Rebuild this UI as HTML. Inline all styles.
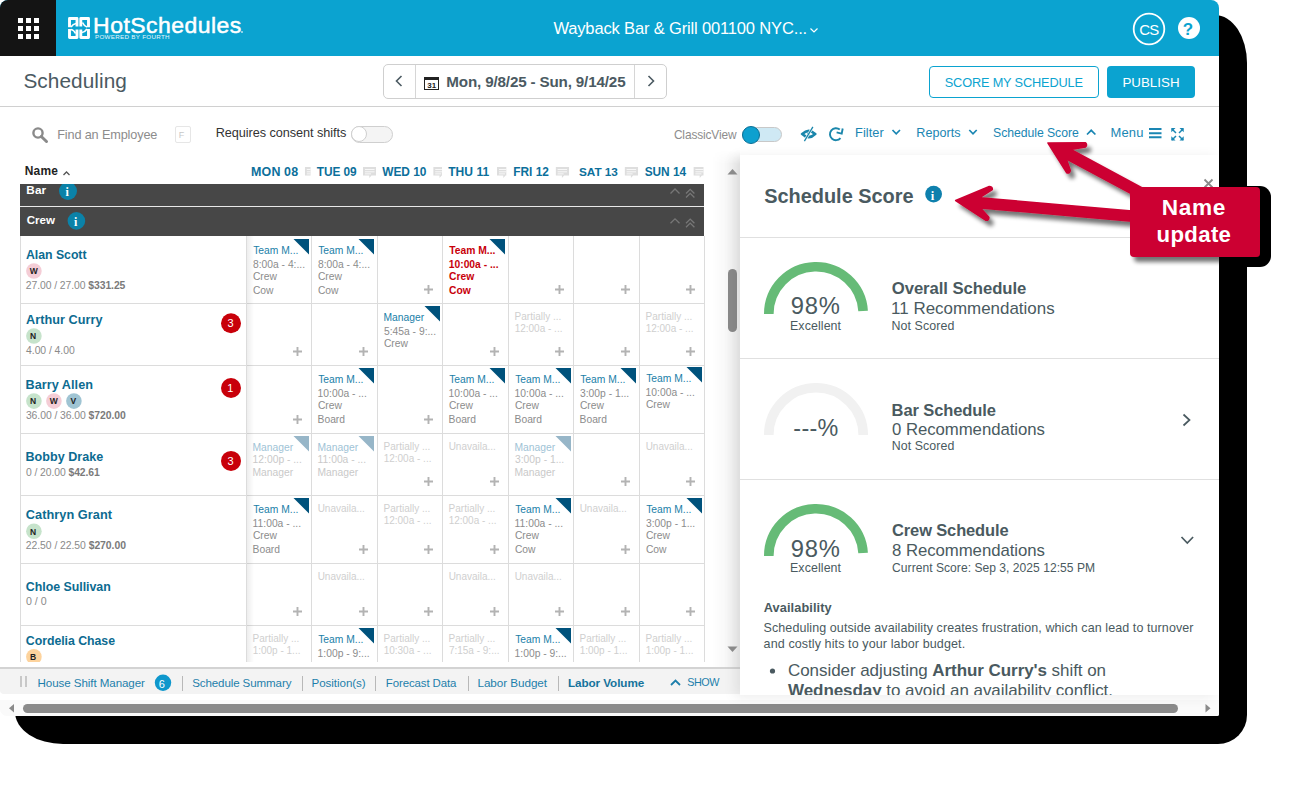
<!DOCTYPE html><html><head><meta charset="utf-8"><style>
html,body{margin:0;padding:0;}body{width:1293px;height:790px;position:relative;overflow:hidden;background:#fff;font-family:"Liberation Sans",sans-serif;}
svg text{white-space:pre}
</style></head><body>
<div style="position:absolute;left:15px;top:15px;width:1232px;height:729px;background:#000;border-radius:46px 32px 29px 48px / 46px 48px 29px 32px;"></div>
<div style="position:absolute;left:1150px;top:186px;width:121px;height:81px;background:#000;border-radius:11px;"></div>
<div style="position:absolute;left:0;top:0;width:1219px;height:716px;background:#fff;border-radius:8px 8px 2px 7px;overflow:hidden;">
<div style="position:absolute;left:0px;top:0px;width:1219px;height:56px;background:#0ba3d0;"></div>
<div style="position:absolute;left:0px;top:0px;width:56px;height:56px;background:#141414;"></div>
<div style="position:absolute;left:18px;top:18px;width:5.3px;height:5.3px;background:#fff;"></div>
<div style="position:absolute;left:18px;top:26px;width:5.3px;height:5.3px;background:#fff;"></div>
<div style="position:absolute;left:18px;top:34px;width:5.3px;height:5.3px;background:#fff;"></div>
<div style="position:absolute;left:26px;top:18px;width:5.3px;height:5.3px;background:#fff;"></div>
<div style="position:absolute;left:26px;top:26px;width:5.3px;height:5.3px;background:#fff;"></div>
<div style="position:absolute;left:26px;top:34px;width:5.3px;height:5.3px;background:#fff;"></div>
<div style="position:absolute;left:34px;top:18px;width:5.3px;height:5.3px;background:#fff;"></div>
<div style="position:absolute;left:34px;top:26px;width:5.3px;height:5.3px;background:#fff;"></div>
<div style="position:absolute;left:34px;top:34px;width:5.3px;height:5.3px;background:#fff;"></div>
<div style="position:absolute;left:0px;top:106px;width:1219px;height:1px;background:#d0d0d0;"></div>
<div style="position:absolute;left:383px;top:64px;width:282px;height:33px;border:1px solid #cfcfcf;border-radius:5px;background:#fff;"></div>
<div style="position:absolute;left:415px;top:65px;width:1px;height:33px;background:#d6d6d6;"></div>
<div style="position:absolute;left:634px;top:65px;width:1px;height:33px;background:#d6d6d6;"></div>
<div style="position:absolute;left:424px;top:77px;width:15px;height:13px;border:1.5px solid #222;border-top-width:3px;box-sizing:border-box;background:#fff;"></div>
<div style="position:absolute;left:929px;top:66px;width:168px;height:30px;border:1px solid #0ba3d0;border-radius:4px;"></div>
<div style="position:absolute;left:1107px;top:66px;width:88px;height:32px;background:#0ba3d0;border-radius:4px;"></div>
<div style="position:absolute;left:175px;top:126px;width:14px;height:15px;border:1px solid #e6e6e6;border-radius:2px;"></div>
<div style="position:absolute;left:351px;top:126px;width:40px;height:15px;border:1px solid #cfcfcf;border-radius:9px;background:#f4f4f4;"></div>
<div style="position:absolute;left:351px;top:126px;width:16px;height:16px;border:1px solid #cfcfcf;border-radius:50%;background:#fff;box-sizing:border-box;"></div>
<div style="position:absolute;left:742px;top:127px;width:40px;height:15px;border:1px solid #c8c8c8;border-radius:9px;background:#cfe9f4;box-sizing:border-box;"></div>
<div style="position:absolute;left:742px;top:126px;width:18px;height:18px;border:1px solid #0a6f96;border-radius:50%;background:#0ea0cf;box-sizing:border-box;"></div>
<div style="position:absolute;left:20px;top:184px;width:684px;height:21.5px;background:#474747;"></div>
<div style="position:absolute;left:20px;top:207px;width:684px;height:29px;background:#474747;"></div>
<div style="position:absolute;left:20px;top:205.5px;width:684px;height:1.5px;background:#e8e8e8;"></div>
<div style="position:absolute;left:0;top:236px;width:740px;height:426px;overflow:hidden;">
<div style="position:absolute;left:20px;top:67px;width:684px;height:1px;background:#dcdcdc;"></div>
<div style="position:absolute;left:20px;top:129px;width:684px;height:1px;background:#dcdcdc;"></div>
<div style="position:absolute;left:20px;top:197px;width:684px;height:1px;background:#dcdcdc;"></div>
<div style="position:absolute;left:20px;top:259px;width:684px;height:1px;background:#dcdcdc;"></div>
<div style="position:absolute;left:20px;top:327px;width:684px;height:1px;background:#dcdcdc;"></div>
<div style="position:absolute;left:20px;top:389px;width:684px;height:1px;background:#dcdcdc;"></div>
<div style="position:absolute;left:20px;top:0px;width:1px;height:426px;background:#dcdcdc;"></div>
<div style="position:absolute;left:246px;top:0px;width:1px;height:426px;background:#dcdcdc;"></div>
<div style="position:absolute;left:311px;top:0px;width:1px;height:426px;background:#dcdcdc;"></div>
<div style="position:absolute;left:377px;top:0px;width:1px;height:426px;background:#dcdcdc;"></div>
<div style="position:absolute;left:442px;top:0px;width:1px;height:426px;background:#dcdcdc;"></div>
<div style="position:absolute;left:508px;top:0px;width:1px;height:426px;background:#dcdcdc;"></div>
<div style="position:absolute;left:573px;top:0px;width:1px;height:426px;background:#dcdcdc;"></div>
<div style="position:absolute;left:639px;top:0px;width:1px;height:426px;background:#dcdcdc;"></div>
<div style="position:absolute;left:704px;top:0px;width:1px;height:426px;background:#dcdcdc;"></div>
<div style="position:absolute;left:247px;top:0px;width:7px;height:426px;background:linear-gradient(90deg,rgba(0,0,0,0.07),rgba(0,0,0,0));"></div>
</div>
<div style="position:absolute;left:712px;top:150px;width:28px;height:517px;background:linear-gradient(90deg,rgba(0,0,0,0),rgba(0,0,0,0.025) 45%,rgba(0,0,0,0.07));-webkit-mask-image:linear-gradient(180deg,rgba(0,0,0,0),#000 14px);"></div>
<div style="position:absolute;left:728px;top:269px;width:9px;height:63px;background:#8a8a8a;border-radius:5px;"></div>
<div style="position:absolute;left:0px;top:667px;width:740px;height:2px;background:#d3d3d3;"></div>
<div style="position:absolute;left:0px;top:669px;width:740px;height:25px;background:#f3f3f3;border-radius:0 0 0 4px;"></div>
<div style="position:absolute;left:20px;top:676px;width:2px;height:11px;background:#c8c8c8;"></div>
<div style="position:absolute;left:24.5px;top:676px;width:2px;height:11px;background:#c8c8c8;"></div>
<div style="position:absolute;left:181.6px;top:676px;width:1px;height:15px;background:#b8b8b8;"></div>
<div style="position:absolute;left:301.6px;top:676px;width:1px;height:15px;background:#b8b8b8;"></div>
<div style="position:absolute;left:375.3px;top:676px;width:1px;height:15px;background:#b8b8b8;"></div>
<div style="position:absolute;left:468.2px;top:676px;width:1px;height:15px;background:#b8b8b8;"></div>
<div style="position:absolute;left:557.9px;top:676px;width:1px;height:15px;background:#b8b8b8;"></div>
<div style="position:absolute;left:0px;top:700px;width:1219px;height:16px;background:#fafafa;"></div>
<div style="position:absolute;left:23px;top:704px;width:1155px;height:9px;background:#8a8a8a;border-radius:5px;"></div>
<div style="position:absolute;left:740px;top:155px;width:479px;height:540px;background:#fff;box-shadow:-5px 2px 12px rgba(0,0,0,0.08);"></div>
<div style="position:absolute;left:740px;top:237px;width:479px;height:1px;background:#e0e0e0;"></div>
<div style="position:absolute;left:740px;top:358px;width:479px;height:1px;background:#e0e0e0;"></div>
<div style="position:absolute;left:740px;top:479px;width:479px;height:1px;background:#e0e0e0;"></div>
<svg width="1293" height="790" style="position:absolute;left:0;top:0;" font-family='"Liberation Sans", sans-serif'>
<svg x="740" y="155" width="479" height="540" overflow="hidden"><g transform="translate(-740,-155)">
<text x="764.24" y="203.00" font-size="19.93" fill="#4a5a60" font-weight="bold" textLength="149.36" lengthAdjust="spacing">Schedule Score</text>
<circle cx="933.6" cy="194.1" r="8.4" fill="#0e80ad"/>
<text x="930.75" y="199.50" font-size="12.5" fill="#fff" font-weight="bold" font-family="Liberation Serif">i</text>
<path d="M1204.5 179.5 L1212.5 187.5 M1212.5 179.5 L1204.5 187.5" stroke="#8a8a8a" stroke-width="1.8"/>
<path d="M768.8 314 A47.2 47.2 0 0 1 863.11 311.04" fill="none" stroke="#66bb77" stroke-width="9.6"/>
<text x="790.81" y="314.30" font-size="23.77" fill="#4a5a60" textLength="49.04" lengthAdjust="spacing">98%</text>
<text x="789.98" y="329.80" font-size="12.42" fill="#4a5a60" textLength="51.09" lengthAdjust="spacing">Excellent</text>
<text x="891.73" y="293.80" font-size="16.71" fill="#4a5a60" font-weight="bold" textLength="134.65" lengthAdjust="spacing">Overall Schedule</text>
<text x="891.11" y="314.30" font-size="16.95" fill="#4a5a60" textLength="163.49" lengthAdjust="spacing">11 Recommendations</text>
<text x="891.38" y="329.80" font-size="12.41" fill="#4a5a60" textLength="62.92" lengthAdjust="spacing">Not Scored</text>
<path d="M768.8 435 A47.2 47.2 0 0 1 863.2 435" fill="none" stroke="#f1f1f1" stroke-width="9.6"/>
<text x="793.27" y="436.00" font-size="23.35" fill="#4a5a60" textLength="45.12" lengthAdjust="spacing">---%</text>
<text x="891.61" y="415.80" font-size="16.51" fill="#4a5a60" font-weight="bold" textLength="104.24" lengthAdjust="spacing">Bar Schedule</text>
<text x="892.06" y="435.40" font-size="16.76" fill="#4a5a60" textLength="152.83" lengthAdjust="spacing">0 Recommendations</text>
<text x="891.69" y="450.30" font-size="12.36" fill="#4a5a60" textLength="62.61" lengthAdjust="spacing">Not Scored</text>
<path d="M1183.5 414.5 L1189.5 420 L1183.5 425.5" fill="none" stroke="#4a5a60" stroke-width="1.7"/>
<path d="M768.8 556 A47.2 47.2 0 0 1 863.11 553.04" fill="none" stroke="#66bb77" stroke-width="9.6"/>
<text x="790.81" y="556.70" font-size="23.77" fill="#4a5a60" textLength="49.04" lengthAdjust="spacing">98%</text>
<text x="789.98" y="572.00" font-size="12.42" fill="#4a5a60" textLength="51.09" lengthAdjust="spacing">Excellent</text>
<text x="892.04" y="536.40" font-size="16.48" fill="#4a5a60" font-weight="bold" textLength="116.54" lengthAdjust="spacing">Crew Schedule</text>
<text x="892.00" y="556.00" font-size="16.77" fill="#4a5a60" textLength="152.90" lengthAdjust="spacing">8 Recommendations</text>
<text x="892.10" y="572.00" font-size="12.09" fill="#4a5a60" textLength="202.97" lengthAdjust="spacing">Current Score: Sep 3, 2025 12:55 PM</text>
<path d="M1181.5 537 L1187.3 543 L1193.1 537" fill="none" stroke="#4a5a60" stroke-width="1.7"/>
<text x="763.79" y="612.20" font-size="12.74" fill="#4a5a60" font-weight="bold" textLength="67.77" lengthAdjust="spacing">Availability</text>
<text x="763.55" y="632.10" font-size="12.49" fill="#4a5a60" textLength="429.93" lengthAdjust="spacing">Scheduling outside availability creates frustration, which can lead to turnover</text>
<text x="763.57" y="648.20" font-size="12.54" fill="#4a5a60" textLength="201.55" lengthAdjust="spacing">and costly hits to your labor budget.</text>
<circle cx="772.5" cy="671" r="2.6" fill="#4a5a60"/>
<text x="788" y="676.1" font-size="17" fill="#4a5a60" textLength="318" lengthAdjust="spacing">Consider adjusting <tspan font-weight="bold">Arthur Curry's</tspan> shift on</text>
<text x="788" y="695.5" font-size="17" fill="#4a5a60" textLength="325" lengthAdjust="spacing"><tspan font-weight="bold">Wednesday</tspan> to avoid an availability conflict.</text>
</g></svg></svg>
<svg width="1293" height="790" style="position:absolute;left:0;top:0;" font-family='"Liberation Sans", sans-serif'><svg x="0" y="236" width="740" height="426" overflow="hidden"><g transform="translate(0,-236)">
<text x="26.00" y="259.10" font-size="12.32" fill="#0c6b91" font-weight="bold" textLength="60.53" lengthAdjust="spacing">Alan Scott</text>
<circle cx="33.9" cy="271.0" r="7.8" fill="#f4cdd6"/>
<text x="29.70" y="274.30" font-size="8.5" fill="#222" font-weight="bold">W</text>
<text x="25.78" y="289.2" font-size="10.38" fill="#8a8a8a" textLength="99.60" lengthAdjust="spacing">27.00 / 27.00 <tspan font-weight="bold" fill="#7a7a7a">$331.25</tspan></text>
<text x="26.00" y="324.30" font-size="12.68" fill="#0c6b91" font-weight="bold" textLength="76.56" lengthAdjust="spacing">Arthur Curry</text>
<circle cx="33.9" cy="336.0" r="7.8" fill="#c6e3cb"/>
<text x="30.04" y="339.30" font-size="8.5" fill="#222" font-weight="bold">N</text>
<text x="26.07" y="354.1" font-size="10.41" fill="#8a8a8a" textLength="48.63" lengthAdjust="spacing">4.00 / 4.00<tspan font-weight="bold" fill="#7a7a7a"></tspan></text>
<circle cx="231" cy="323.3" r="10" fill="#c8000a"/>
<text x="227.58" y="327.30" font-size="11" fill="#fff">3</text>
<text x="25.46" y="388.60" font-size="12.67" fill="#0c6b91" font-weight="bold" textLength="67.50" lengthAdjust="spacing">Barry Allen</text>
<circle cx="33.9" cy="401.1" r="7.8" fill="#c6e3cb"/>
<text x="30.04" y="404.40" font-size="8.5" fill="#222" font-weight="bold">N</text>
<circle cx="53.9" cy="401.1" r="7.8" fill="#f4cdd6"/>
<text x="49.70" y="404.40" font-size="8.5" fill="#222" font-weight="bold">W</text>
<circle cx="73.9" cy="401.1" r="7.8" fill="#9fc4d3"/>
<text x="70.55" y="404.40" font-size="8.5" fill="#222" font-weight="bold">V</text>
<text x="25.90" y="419.1" font-size="10.4" fill="#8a8a8a" textLength="99.92" lengthAdjust="spacing">36.00 / 36.00 <tspan font-weight="bold" fill="#7a7a7a">$720.00</tspan></text>
<circle cx="231" cy="388" r="10" fill="#c8000a"/>
<text x="227.16" y="392.00" font-size="11" fill="#fff">1</text>
<text x="25.47" y="461.30" font-size="12.57" fill="#0c6b91" font-weight="bold" textLength="77.76" lengthAdjust="spacing">Bobby Drake</text>
<text x="25.91" y="475.8" font-size="10.37" fill="#8a8a8a" textLength="73.87" lengthAdjust="spacing">0 / 20.00 <tspan font-weight="bold" fill="#7a7a7a">$42.61</tspan></text>
<circle cx="231" cy="460.9" r="10" fill="#c8000a"/>
<text x="227.58" y="464.90" font-size="11" fill="#fff">3</text>
<text x="25.79" y="518.70" font-size="12.73" fill="#0c6b91" font-weight="bold" textLength="86.25" lengthAdjust="spacing">Cathryn Grant</text>
<circle cx="33.9" cy="531.3" r="7.8" fill="#c6e3cb"/>
<text x="30.04" y="534.60" font-size="8.5" fill="#222" font-weight="bold">N</text>
<text x="25.78" y="549.3" font-size="10.41" fill="#8a8a8a" textLength="100.15" lengthAdjust="spacing">22.50 / 22.50 <tspan font-weight="bold" fill="#7a7a7a">$270.00</tspan></text>
<text x="25.80" y="590.50" font-size="12.38" fill="#0c6b91" font-weight="bold" textLength="84.94" lengthAdjust="spacing">Chloe Sullivan</text>
<text x="25.90" y="604.6" font-size="10.63" fill="#8a8a8a" textLength="20.71" lengthAdjust="spacing">0 / 0<tspan font-weight="bold" fill="#7a7a7a"></tspan></text>
<text x="25.81" y="644.50" font-size="12.33" fill="#0c6b91" font-weight="bold" textLength="89.22" lengthAdjust="spacing">Cordelia Chase</text>
<circle cx="33.9" cy="656.8" r="7.8" fill="#fdd39d"/>
<text x="30.04" y="660.10" font-size="8.5" fill="#222" font-weight="bold">B</text>
<path d="M293.5 239 H309 V254.5Z" fill="#00527c"/>
<text x="253.17" y="253.90" font-size="10.3" fill="#1a80a8">Team M...</text>
<text x="252.97" y="267.90" font-size="10.3" fill="#8c8c8c">8:00a - 4:...</text>
<text x="252.89" y="280.00" font-size="10.3" fill="#8c8c8c">Crew</text>
<text x="252.89" y="293.60" font-size="10.3" fill="#8c8c8c">Cow</text>
<path d="M358.5 239 H374 V254.5Z" fill="#00527c"/>
<text x="318.17" y="253.90" font-size="10.3" fill="#1a80a8">Team M...</text>
<text x="317.97" y="267.90" font-size="10.3" fill="#8c8c8c">8:00a - 4:...</text>
<text x="317.88" y="280.00" font-size="10.3" fill="#8c8c8c">Crew</text>
<text x="317.88" y="293.60" font-size="10.3" fill="#8c8c8c">Cow</text>
<path d="M424.0 289.5 H433.0 M428.5 285.0 V294.0" stroke="#b3b3b3" stroke-width="1.9"/>
<path d="M489.5 239 H505 V254.5Z" fill="#00527c"/>
<text x="449.30" y="253.90" font-size="10.3" fill="#c8000a" font-weight="bold">Team M...</text>
<text x="448.76" y="267.90" font-size="10.3" fill="#c8000a" font-weight="bold">10:00a - ...</text>
<text x="448.99" y="280.00" font-size="10.3" fill="#c8000a" font-weight="bold">Crew</text>
<text x="448.99" y="293.60" font-size="10.3" fill="#c8000a" font-weight="bold">Cow</text>
<path d="M555.0 289.5 H564.0 M559.5 285.0 V294.0" stroke="#b3b3b3" stroke-width="1.9"/>
<path d="M621.0 289.5 H630.0 M625.5 285.0 V294.0" stroke="#b3b3b3" stroke-width="1.9"/>
<path d="M686.0 289.5 H695.0 M690.5 285.0 V294.0" stroke="#b3b3b3" stroke-width="1.9"/>
<path d="M293.0 351.5 H302.0 M297.5 347.0 V356.0" stroke="#b3b3b3" stroke-width="1.9"/>
<path d="M359.0 351.5 H368.0 M363.5 347.0 V356.0" stroke="#b3b3b3" stroke-width="1.9"/>
<path d="M424.5 306 H440 V321.5Z" fill="#00527c"/>
<text x="383.56" y="320.90" font-size="10.3" fill="#1a80a8">Manager</text>
<text x="383.99" y="334.90" font-size="10.3" fill="#8c8c8c">5:45a - 9:...</text>
<text x="383.88" y="347.00" font-size="10.3" fill="#8c8c8c">Crew</text>
<path d="M490.0 351.5 H499.0 M494.5 347.0 V356.0" stroke="#b3b3b3" stroke-width="1.9"/>
<text x="514.58" y="319.50" font-size="10" fill="#cfcfcf">Partially ...</text>
<text x="514.64" y="332.30" font-size="10" fill="#cfcfcf">12:00a - ...</text>
<path d="M555.0 351.5 H564.0 M559.5 347.0 V356.0" stroke="#b3b3b3" stroke-width="1.9"/>
<path d="M621.0 351.5 H630.0 M625.5 347.0 V356.0" stroke="#b3b3b3" stroke-width="1.9"/>
<text x="645.58" y="319.50" font-size="10" fill="#cfcfcf">Partially ...</text>
<text x="645.64" y="332.30" font-size="10" fill="#cfcfcf">12:00a - ...</text>
<path d="M686.0 351.5 H695.0 M690.5 347.0 V356.0" stroke="#b3b3b3" stroke-width="1.9"/>
<path d="M293.0 419.5 H302.0 M297.5 415.0 V424.0" stroke="#b3b3b3" stroke-width="1.9"/>
<path d="M358.5 368 H374 V383.5Z" fill="#00527c"/>
<text x="318.17" y="382.90" font-size="10.3" fill="#1a80a8">Team M...</text>
<text x="317.62" y="396.90" font-size="10.3" fill="#8c8c8c">10:00a - ...</text>
<text x="317.88" y="409.00" font-size="10.3" fill="#8c8c8c">Crew</text>
<text x="317.56" y="422.60" font-size="10.3" fill="#8c8c8c">Board</text>
<path d="M424.0 419.5 H433.0 M428.5 415.0 V424.0" stroke="#b3b3b3" stroke-width="1.9"/>
<path d="M489.5 368 H505 V383.5Z" fill="#00527c"/>
<text x="449.17" y="382.90" font-size="10.3" fill="#1a80a8">Team M...</text>
<text x="448.62" y="396.90" font-size="10.3" fill="#8c8c8c">10:00a - ...</text>
<text x="448.88" y="409.00" font-size="10.3" fill="#8c8c8c">Crew</text>
<text x="448.56" y="422.60" font-size="10.3" fill="#8c8c8c">Board</text>
<path d="M555.5 368 H571 V383.5Z" fill="#00527c"/>
<text x="515.17" y="382.90" font-size="10.3" fill="#1a80a8">Team M...</text>
<text x="514.62" y="396.90" font-size="10.3" fill="#8c8c8c">10:00a - ...</text>
<text x="514.88" y="409.00" font-size="10.3" fill="#8c8c8c">Crew</text>
<text x="514.56" y="422.60" font-size="10.3" fill="#8c8c8c">Board</text>
<path d="M620.5 368 H636 V383.5Z" fill="#00527c"/>
<text x="580.17" y="382.90" font-size="10.3" fill="#1a80a8">Team M...</text>
<text x="580.01" y="396.90" font-size="10.3" fill="#8c8c8c">3:00p - 1...</text>
<text x="579.88" y="409.00" font-size="10.3" fill="#8c8c8c">Crew</text>
<text x="579.56" y="422.60" font-size="10.3" fill="#8c8c8c">Board</text>
<path d="M686.5 367 H702 V382.5Z" fill="#00527c"/>
<text x="646.17" y="381.90" font-size="10.3" fill="#1a80a8">Team M...</text>
<text x="645.62" y="395.90" font-size="10.3" fill="#8c8c8c">10:00a - ...</text>
<text x="645.88" y="408.00" font-size="10.3" fill="#8c8c8c">Crew</text>
<path d="M293.5 436 H309 V451.5Z" fill="#97b6c8"/>
<text x="252.56" y="450.50" font-size="10.3" fill="#9fc3d6">Manager</text>
<text x="252.62" y="462.50" font-size="10.3" fill="#c9c9c9">12:00p - ...</text>
<text x="252.56" y="475.50" font-size="10.3" fill="#c9c9c9">Manager</text>
<path d="M358.5 436 H374 V451.5Z" fill="#97b6c8"/>
<text x="317.56" y="450.50" font-size="10.3" fill="#9fc3d6">Manager</text>
<text x="317.62" y="462.50" font-size="10.3" fill="#c9c9c9">11:00a - ...</text>
<text x="317.56" y="475.50" font-size="10.3" fill="#c9c9c9">Manager</text>
<text x="383.58" y="449.50" font-size="10" fill="#cfcfcf">Partially ...</text>
<text x="383.64" y="462.30" font-size="10" fill="#cfcfcf">12:00a - ...</text>
<path d="M424.0 481.5 H433.0 M428.5 477.0 V486.0" stroke="#b3b3b3" stroke-width="1.9"/>
<text x="448.64" y="449.50" font-size="10" fill="#cfcfcf">Unavaila...</text>
<path d="M490.0 481.5 H499.0 M494.5 477.0 V486.0" stroke="#b3b3b3" stroke-width="1.9"/>
<path d="M555.5 436 H571 V451.5Z" fill="#97b6c8"/>
<text x="514.56" y="450.50" font-size="10.3" fill="#9fc3d6">Manager</text>
<text x="515.01" y="462.50" font-size="10.3" fill="#c9c9c9">3:00p - 1...</text>
<text x="514.56" y="475.50" font-size="10.3" fill="#c9c9c9">Manager</text>
<path d="M621.0 481.5 H630.0 M625.5 477.0 V486.0" stroke="#b3b3b3" stroke-width="1.9"/>
<text x="645.64" y="449.50" font-size="10" fill="#cfcfcf">Unavaila...</text>
<path d="M686.0 481.5 H695.0 M690.5 477.0 V486.0" stroke="#b3b3b3" stroke-width="1.9"/>
<path d="M293.5 498 H309 V513.5Z" fill="#00527c"/>
<text x="253.17" y="512.90" font-size="10.3" fill="#1a80a8">Team M...</text>
<text x="252.62" y="526.90" font-size="10.3" fill="#8c8c8c">11:00a - ...</text>
<text x="252.89" y="539.00" font-size="10.3" fill="#8c8c8c">Crew</text>
<text x="252.56" y="552.60" font-size="10.3" fill="#8c8c8c">Board</text>
<text x="317.64" y="511.50" font-size="10" fill="#cfcfcf">Unavaila...</text>
<path d="M359.0 549.5 H368.0 M363.5 545.0 V554.0" stroke="#b3b3b3" stroke-width="1.9"/>
<text x="383.58" y="511.50" font-size="10" fill="#cfcfcf">Partially ...</text>
<text x="383.64" y="524.30" font-size="10" fill="#cfcfcf">12:00a - ...</text>
<path d="M424.0 549.5 H433.0 M428.5 545.0 V554.0" stroke="#b3b3b3" stroke-width="1.9"/>
<text x="448.58" y="511.50" font-size="10" fill="#cfcfcf">Partially ...</text>
<text x="448.64" y="524.30" font-size="10" fill="#cfcfcf">12:00a - ...</text>
<path d="M490.0 549.5 H499.0 M494.5 545.0 V554.0" stroke="#b3b3b3" stroke-width="1.9"/>
<path d="M555.5 498 H571 V513.5Z" fill="#00527c"/>
<text x="515.17" y="512.90" font-size="10.3" fill="#1a80a8">Team M...</text>
<text x="514.62" y="526.90" font-size="10.3" fill="#8c8c8c">11:00a - ...</text>
<text x="514.88" y="539.00" font-size="10.3" fill="#8c8c8c">Crew</text>
<text x="514.88" y="552.60" font-size="10.3" fill="#8c8c8c">Cow</text>
<text x="579.64" y="511.50" font-size="10" fill="#cfcfcf">Unavaila...</text>
<path d="M621.0 549.5 H630.0 M625.5 545.0 V554.0" stroke="#b3b3b3" stroke-width="1.9"/>
<path d="M686.5 498 H702 V513.5Z" fill="#00527c"/>
<text x="646.17" y="512.90" font-size="10.3" fill="#1a80a8">Team M...</text>
<text x="646.01" y="526.90" font-size="10.3" fill="#8c8c8c">3:00p - 1...</text>
<text x="645.88" y="539.00" font-size="10.3" fill="#8c8c8c">Crew</text>
<text x="645.88" y="552.60" font-size="10.3" fill="#8c8c8c">Cow</text>
<path d="M293.0 611.5 H302.0 M297.5 607.0 V616.0" stroke="#b3b3b3" stroke-width="1.9"/>
<text x="317.64" y="579.50" font-size="10" fill="#cfcfcf">Unavaila...</text>
<path d="M359.0 611.5 H368.0 M363.5 607.0 V616.0" stroke="#b3b3b3" stroke-width="1.9"/>
<path d="M424.0 611.5 H433.0 M428.5 607.0 V616.0" stroke="#b3b3b3" stroke-width="1.9"/>
<text x="448.64" y="579.50" font-size="10" fill="#cfcfcf">Unavaila...</text>
<path d="M490.0 611.5 H499.0 M494.5 607.0 V616.0" stroke="#b3b3b3" stroke-width="1.9"/>
<text x="514.64" y="579.50" font-size="10" fill="#cfcfcf">Unavaila...</text>
<path d="M555.0 611.5 H564.0 M559.5 607.0 V616.0" stroke="#b3b3b3" stroke-width="1.9"/>
<path d="M621.0 611.5 H630.0 M625.5 607.0 V616.0" stroke="#b3b3b3" stroke-width="1.9"/>
<path d="M686.0 611.5 H695.0 M690.5 607.0 V616.0" stroke="#b3b3b3" stroke-width="1.9"/>
<text x="252.58" y="641.50" font-size="10" fill="#cfcfcf">Partially ...</text>
<text x="252.64" y="654.30" font-size="10" fill="#cfcfcf">1:00p - 1...</text>
<path d="M358.5 628 H374 V643.5Z" fill="#00527c"/>
<text x="318.17" y="642.90" font-size="10.3" fill="#1a80a8">Team M...</text>
<text x="317.62" y="656.90" font-size="10.3" fill="#8c8c8c">1:00p - 9:...</text>
<text x="383.58" y="641.50" font-size="10" fill="#cfcfcf">Partially ...</text>
<text x="383.64" y="654.30" font-size="10" fill="#cfcfcf">10:30a - ...</text>
<text x="448.58" y="641.50" font-size="10" fill="#cfcfcf">Partially ...</text>
<text x="448.90" y="654.30" font-size="10" fill="#cfcfcf">7:15a - 9:...</text>
<path d="M555.5 628 H571 V643.5Z" fill="#00527c"/>
<text x="515.17" y="642.90" font-size="10.3" fill="#1a80a8">Team M...</text>
<text x="514.62" y="656.90" font-size="10.3" fill="#8c8c8c">1:00p - 9:...</text>
<text x="579.58" y="641.50" font-size="10" fill="#cfcfcf">Partially ...</text>
<text x="579.64" y="654.30" font-size="10" fill="#cfcfcf">1:00p - 1...</text>
<text x="645.58" y="641.50" font-size="10" fill="#cfcfcf">Partially ...</text>
<text x="645.64" y="654.30" font-size="10" fill="#cfcfcf">1:00p - 1...</text>
</g></svg></svg>
</div>
<svg width="1293" height="790" style="position:absolute;left:0;top:0;" font-family='"Liberation Sans", sans-serif'>
<g fill="none" stroke="#fff" stroke-width="2.9" stroke-linejoin="round"><path d="M69.5 27.3 V18.5 H77 V26.5"/><path d="M71 27 Q73 24 76 23.5" stroke-width="1.6"/><path d="M80.8 26.5 V18.5 H88.5 V27.3"/><path d="M87 27 Q84 26 82.5 22.5" stroke-width="1.6"/><path d="M69.5 29 V37.5 H77 V29.5"/><path d="M71 29.5 Q74 30 75.5 33.5" stroke-width="1.6"/><path d="M80.8 29.5 V37.5 H88.5 V29"/><path d="M87 29 Q85 32 82 32.5" stroke-width="1.6"/></g>
<text x="93.12" y="33.00" font-size="22.97" fill="#fff" textLength="148.21" lengthAdjust="spacing" stroke="#fff" stroke-width="0.5">HotSchedules</text>
<circle cx="242" cy="32" r="1" fill="#fff" opacity="0.7"/>
<text x="94.99" y="39.00" font-size="6.23" fill="#e6f6fb" textLength="74.51" lengthAdjust="spacing">POWERED BY FOURTH</text>
<text x="553.43" y="33.90" font-size="16.52" fill="#fff" textLength="253.76" lengthAdjust="spacing">Wayback Bar &amp; Grill 001100 NYC...</text>
<path d="M810.5 28.5 L814 32 L817.5 28.5" fill="none" stroke="#fff" stroke-width="1.2"/>
<circle cx="1149" cy="29" r="15.3" fill="none" stroke="#fff" stroke-width="1.8"/>
<text x="1139.25" y="35.00" font-size="14.96" fill="#fff" textLength="19.92" lengthAdjust="spacing">CS</text>
<circle cx="1189" cy="28" r="11" fill="#fff"/>
<text x="1182.75" y="35.00" font-size="17" fill="#0ba3d0" font-weight="bold" textLength="12.21" lengthAdjust="spacing">?</text>
<text x="23.39" y="88.30" font-size="20.79" fill="#4b5a62" textLength="103.45" lengthAdjust="spacing">Scheduling</text>
<path d="M401.5 76 L396.5 81 L401.5 86" fill="none" stroke="#4b5a62" stroke-width="1.6"/>
<path d="M648.5 76 L653.5 81 L648.5 86" fill="none" stroke="#4b5a62" stroke-width="1.6"/>
<text x="427.32" y="88.30" font-size="7.99" fill="#222" font-weight="bold" textLength="8.89" lengthAdjust="spacing">31</text>
<text x="446.30" y="87.40" font-size="15.21" fill="#4b5a62" font-weight="bold" textLength="179.30" lengthAdjust="spacing">Mon, 9/8/25 - Sun, 9/14/25</text>
<text x="944.74" y="87.20" font-size="12.75" fill="#0ba3d0" textLength="138.19" lengthAdjust="spacing">SCORE MY SCHEDULE</text>
<text x="1122.41" y="87.20" font-size="13.34" fill="#fff" textLength="57.15" lengthAdjust="spacing">PUBLISH</text>
<circle cx="38" cy="133" r="4.6" fill="none" stroke="#8a8a8a" stroke-width="2.4"/><path d="M41.3 136.5 L46.5 141.5" stroke="#8a8a8a" stroke-width="3" stroke-linecap="round"/>
<text x="57.16" y="138.80" font-size="12.69" fill="#8c8c8c" textLength="100.20" lengthAdjust="spacing">Find an Employee</text>
<text x="178.76" y="137.50" font-size="9" fill="#c8c8c8">F</text>
<text x="215.66" y="137.20" font-size="12.7" fill="#333" textLength="130.70" lengthAdjust="spacing">Requires consent shifts</text>
<text x="673.90" y="139.10" font-size="11.91" fill="#8d8d8d" textLength="62.65" lengthAdjust="spacing">ClassicView</text>
<path d="M802.3 134 Q808.7 127.6 815.1 134 Q808.7 140.4 802.3 134Z" fill="none" stroke="#1a86ab" stroke-width="2.5"/><circle cx="808.4" cy="134" r="1.6" fill="#1a86ab"/><path d="M812.9 126.9 L804.4 141.2" stroke="#fff" stroke-width="2.6"/><path d="M812.9 126.9 L804.4 141.2" stroke="#1a86ab" stroke-width="1.3"/>
<path d="M840.5 138.1 A6 6 0 1 1 839.8 129.6" fill="none" stroke="#1a86ab" stroke-width="1.9"/><path d="M836.6 132.4 L841.7 133.6 L842.7 128.5" fill="none" stroke="#1a86ab" stroke-width="1.9"/>
<text x="855.05" y="137.30" font-size="12.8" fill="#1a86b3" textLength="28.73" lengthAdjust="spacing">Filter</text>
<path d="M892.5 130 L896.2 133.8 L900 130" fill="none" stroke="#1a86b3" stroke-width="1.7"/>
<text x="916.27" y="137.30" font-size="12.6" fill="#1a86b3" textLength="44.28" lengthAdjust="spacing">Reports</text>
<path d="M969.3 130 L973 133.8 L976.7 130" fill="none" stroke="#1a86b3" stroke-width="1.7"/>
<text x="993.06" y="137.30" font-size="12.24" fill="#1a86b3" textLength="85.68" lengthAdjust="spacing">Schedule Score</text>
<path d="M1087 134.5 L1091.2 130.3 L1095.4 134.5" fill="none" stroke="#1a86b3" stroke-width="1.7"/>
<text x="1110.54" y="137.30" font-size="12.97" fill="#1a86b3" textLength="32.91" lengthAdjust="spacing">Menu</text>
<g stroke="#1a86b3" stroke-width="2"><path d="M1149 129 H1161.5 M1149 133.3 H1161.5 M1149 137.3 H1161.5"/></g>
<g stroke="#1a86b3" stroke-width="1.5" fill="none"><path d="M1172 129 L1176 133 M1183 129 L1179 133 M1172 140 L1176 136 M1183 140 L1179 136"/></g><g fill="#1a86b3"><path d="M1171.3 128 h4.2 l-4.2 4.2z M1183.7 128 h-4.2 l4.2 4.2z M1171.3 140.5 h4.2 l-4.2 -4.2z M1183.7 140.5 h-4.2 l4.2 -4.2z"/></g>
<text x="24.81" y="175.00" font-size="11.96" fill="#222" font-weight="bold" textLength="33.09" lengthAdjust="spacing">Name</text>
<path d="M63.5 175 L66.5 172 L69.5 175" fill="none" stroke="#555" stroke-width="1.3"/>
<text x="251.08" y="175.60" font-size="12.44" fill="#0c6f9b" font-weight="bold" textLength="46.98" lengthAdjust="spacing">MON 08</text>
<svg x="304.8" y="166.5" width="5.800000000000011" height="13" overflow="hidden"><path d="M0 0.5 H13.5 V9 H8.5 L6.3 11.5 V9 H0Z" fill="#dedede"/><path d="M2 3 H11.5 M2 5.3 H11.5 M2 7.4 H8" stroke="#fafafa" stroke-width="0.9"/></svg>
<text x="316.68" y="175.60" font-size="11.85" fill="#0c6f9b" font-weight="bold" textLength="39.95" lengthAdjust="spacing">TUE 09</text>
<svg x="363" y="166.5" width="13" height="13" overflow="hidden"><path d="M0 0.5 H13.5 V9 H8.5 L6.3 11.5 V9 H0Z" fill="#dedede"/><path d="M2 3 H11.5 M2 5.3 H11.5 M2 7.4 H8" stroke="#fafafa" stroke-width="0.9"/></svg>
<text x="382.20" y="175.60" font-size="11.92" fill="#0c6f9b" font-weight="bold" textLength="44.27" lengthAdjust="spacing">WED 10</text>
<svg x="433.2" y="166.5" width="8.800000000000011" height="13" overflow="hidden"><path d="M0 0.5 H13.5 V9 H8.5 L6.3 11.5 V9 H0Z" fill="#dedede"/><path d="M2 3 H11.5 M2 5.3 H11.5 M2 7.4 H8" stroke="#fafafa" stroke-width="0.9"/></svg>
<text x="448.18" y="175.60" font-size="12.07" fill="#0c6f9b" font-weight="bold" textLength="41.04" lengthAdjust="spacing">THU 11</text>
<svg x="497" y="166.5" width="9.300000000000011" height="13" overflow="hidden"><path d="M0 0.5 H13.5 V9 H8.5 L6.3 11.5 V9 H0Z" fill="#dedede"/><path d="M2 3 H11.5 M2 5.3 H11.5 M2 7.4 H8" stroke="#fafafa" stroke-width="0.9"/></svg>
<text x="513.32" y="175.60" font-size="11.89" fill="#0c6f9b" font-weight="bold" textLength="35.55" lengthAdjust="spacing">FRI 12</text>
<svg x="555.6" y="166.5" width="13.899999999999977" height="13" overflow="hidden"><path d="M0 0.5 H13.5 V9 H8.5 L6.3 11.5 V9 H0Z" fill="#dedede"/><path d="M2 3 H11.5 M2 5.3 H11.5 M2 7.4 H8" stroke="#fafafa" stroke-width="0.9"/></svg>
<text x="579.07" y="175.60" font-size="11.77" fill="#0c6f9b" font-weight="bold" textLength="38.73" lengthAdjust="spacing">SAT 13</text>
<svg x="624.6" y="166.5" width="13.699999999999932" height="13" overflow="hidden"><path d="M0 0.5 H13.5 V9 H8.5 L6.3 11.5 V9 H0Z" fill="#dedede"/><path d="M2 3 H11.5 M2 5.3 H11.5 M2 7.4 H8" stroke="#fafafa" stroke-width="0.9"/></svg>
<text x="644.67" y="175.60" font-size="11.89" fill="#0c6f9b" font-weight="bold" textLength="41.47" lengthAdjust="spacing">SUN 14</text>
<svg x="693.4" y="166.5" width="10.100000000000023" height="13" overflow="hidden"><path d="M0 0.5 H13.5 V9 H8.5 L6.3 11.5 V9 H0Z" fill="#dedede"/><path d="M2 3 H11.5 M2 5.3 H11.5 M2 7.4 H8" stroke="#fafafa" stroke-width="0.9"/></svg>
<text x="26.33" y="193.90" font-size="11.74" fill="#fff" font-weight="bold" textLength="19.73" lengthAdjust="spacing">Bar</text>
<svg x="0" y="184" width="1293" height="30" overflow="hidden"><circle cx="68" cy="7" r="9" fill="#0b82a8"/></svg>
<text x="65.48" y="196.00" font-size="12" fill="#fff" font-weight="bold" font-family="Liberation Serif">i</text>
<text x="26.64" y="224.00" font-size="11.56" fill="#fff" font-weight="bold" textLength="28.33" lengthAdjust="spacing">Crew</text>
<circle cx="76.4" cy="220.9" r="8.8" fill="#0b82a8"/>
<text x="73.88" y="226.00" font-size="12" fill="#fff" font-weight="bold" font-family="Liberation Serif">i</text>
<path d="M670.5 193.5 L675 189.0 L679.5 193.5" fill="none" stroke="#777" stroke-width="1.3"/>
<path d="M686 193.5 L690.2 189.3 L694.4 193.5 M686 197.5 L690.2 193.3 L694.4 197.5" fill="none" stroke="#777" stroke-width="1.3"/>
<path d="M670.5 223.3 L675 218.8 L679.5 223.3" fill="none" stroke="#777" stroke-width="1.3"/>
<path d="M686 223.3 L690.2 219.10000000000002 L694.4 223.3 M686 227.3 L690.2 223.10000000000002 L694.4 227.3" fill="none" stroke="#777" stroke-width="1.3"/>
<path d="M727.5 174.5 L732.5 169 L737.5 174.5Z" fill="#8a8a8a"/>
<path d="M727.5 646.5 L732.5 652 L737.5 646.5Z" fill="#8a8a8a"/>
<text x="37.55" y="686.50" font-size="11.6" fill="#1d7fab" textLength="107.41" lengthAdjust="spacing">House Shift Manager</text>
<circle cx="163" cy="682.8" r="8.2" fill="#0e97cc"/>
<text x="158.75" y="688.00" font-size="11" fill="#fff">6</text>
<text x="192.19" y="686.50" font-size="11.56" fill="#1d7fab" textLength="99.23" lengthAdjust="spacing">Schedule Summary</text>
<text x="311.55" y="686.50" font-size="11.62" fill="#1d7fab" textLength="54.17" lengthAdjust="spacing">Position(s)</text>
<text x="385.86" y="686.50" font-size="11.46" fill="#1d7fab" textLength="70.52" lengthAdjust="spacing">Forecast Data</text>
<text x="477.44" y="686.50" font-size="11.71" fill="#1d7fab" textLength="69.62" lengthAdjust="spacing">Labor Budget</text>
<text x="567.93" y="686.50" font-size="11.71" fill="#16739c" font-weight="bold" textLength="76.36" lengthAdjust="spacing">Labor Volume</text>
<path d="M671 685 L675.5 680.5 L680 685" fill="none" stroke="#1d7fab" stroke-width="1.8"/>
<text x="687.32" y="686.00" font-size="10.81" fill="#1d7fab" textLength="32.08" lengthAdjust="spacing">SHOW</text>
<path d="M14 704 L9 708.3 L14 712.6Z" fill="#8a8a8a"/>
<path d="M1205.5 704 L1210.5 708.3 L1205.5 712.6Z" fill="#8a8a8a"/></svg>
<svg width="1293" height="790" style="position:absolute;left:0;top:0;" font-family='"Liberation Sans", sans-serif'>
<defs><filter id="ds" x="-20%" y="-20%" width="150%" height="160%"><feGaussianBlur in="SourceAlpha" stdDeviation="2.2"/><feOffset dx="4" dy="5" result="b"/><feComponentTransfer><feFuncA type="linear" slope="0.55"/></feComponentTransfer><feMerge><feMergeNode/><feMergeNode in="SourceGraphic"/></feMerge></filter></defs>
<g filter="url(#ds)" fill="#cc0032" stroke="#cc0032" stroke-width="1.6" stroke-linejoin="round">
<path d="M1048 143 L1085.5 142.8 Q1087.5 145 1085.5 147 L1070.8 149.5 L1145 189.5 L1140 196 L1130.2 193.1 L1066.2 158.8 L1070.3 170.5 Q1069.5 173.8 1066.8 172.8 Z"/>
<path d="M955.7 200.5 L989.3 186.5 Q992.5 186.5 992.3 189.5 L979.3 197.7 L1135 211.3 L1135 221.5 L980.3 207.9 L988.8 217.3 Q989 220.5 986 220.3 Z"/>
</g>
<rect x="1130" y="187" width="130" height="70" rx="4" ry="4" fill="#cc0032" filter="url(#ds)"/>
<text x="1161.81" y="214.80" font-size="22.65" fill="#fff" font-weight="bold" textLength="63.56" lengthAdjust="spacing">Name</text>
<text x="1156.62" y="242.20" font-size="22.18" fill="#fff" font-weight="bold" textLength="74.33" lengthAdjust="spacing">update</text>
</svg>
</body></html>
